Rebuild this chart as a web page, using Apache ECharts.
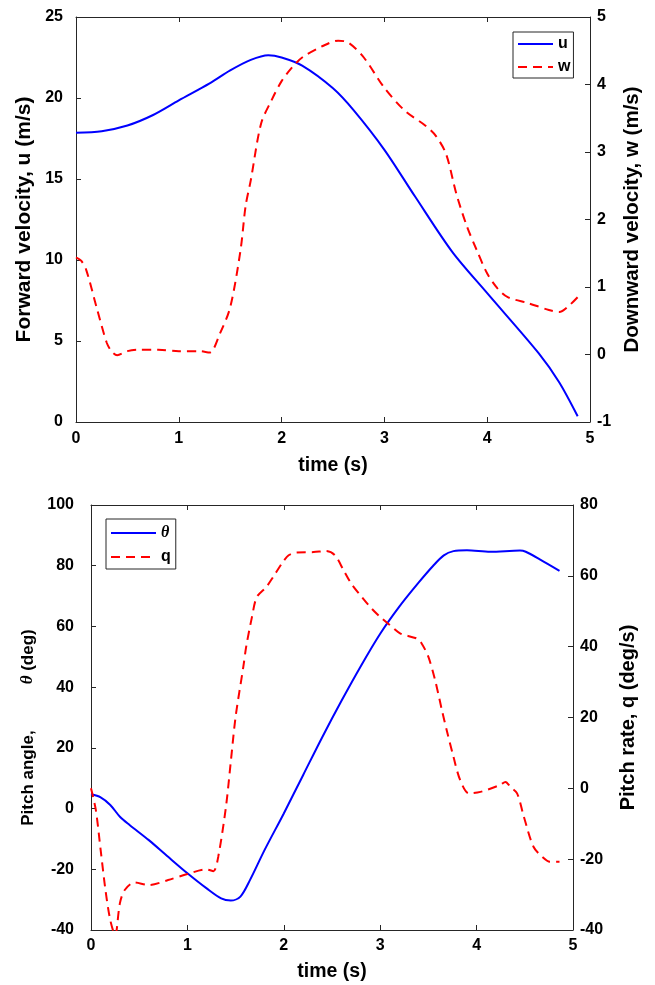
<!DOCTYPE html>
<html>
<head>
<meta charset="utf-8">
<script src="https://cdn.jsdelivr.net/npm/echarts@6/dist/echarts.min.js"></script>
<style>
  html, body { margin: 0; padding: 0; background: #ffffff; }
  #chart { width: 655px; height: 985px; }
</style>
</head>
<body>
<div id="chart"></div>
<script>
// Upper panel: forward velocity u (left axis) and downward velocity w (right axis)
const timeU = [0, 0.25, 0.5, 0.75, 1.0, 1.3, 1.5, 1.7, 1.87, 2.0, 2.2, 2.5, 2.7, 3.0, 3.3, 3.66, 4.0, 4.5, 4.7, 4.88];
const valuesU = [17.85, 17.95, 18.3, 18.95, 19.85, 20.9, 21.7, 22.35, 22.64, 22.5, 22.0, 20.6, 19.25, 16.8, 13.9, 10.5, 7.95, 4.25, 2.45, 0.35];

const timeW = [0, 0.05, 0.1, 0.2, 0.3, 0.35, 0.4, 0.5, 0.6, 0.8, 1.0, 1.2, 1.3, 1.4, 1.5, 1.6, 1.65, 1.7, 1.8, 1.9,
  2.0, 2.1, 2.2, 2.4, 2.55, 2.65, 2.8, 3.0, 3.2, 3.4, 3.5, 3.6, 3.7, 3.8, 3.9, 4.0, 4.1, 4.2, 4.4, 4.6, 4.7, 4.8, 4.88];
const valuesW = [1.44, 1.39, 1.25, 0.70, 0.17, 0.04, -0.01, 0.05, 0.07, 0.07, 0.05, 0.05, 0.03, 0.31, 0.70, 1.54, 2.2, 2.58, 3.42, 3.76,
  4.05, 4.25, 4.40, 4.57, 4.65, 4.62, 4.40, 3.95, 3.61, 3.39, 3.24, 2.97, 2.38, 1.91, 1.54, 1.20, 0.98, 0.85, 0.76, 0.66, 0.63, 0.73, 0.85];

// Lower panel: pitch angle theta (left axis) and pitch rate q (right axis)
const timeTheta = [0, 0.1, 0.2, 0.3, 0.4, 0.6, 0.8, 1.0, 1.2, 1.35, 1.45, 1.55, 1.65, 1.8, 2.0, 2.2, 2.4, 2.6, 2.8, 3.0,
  3.2, 3.4, 3.55, 3.66, 3.76, 3.9, 4.14, 4.45, 4.51, 4.66, 4.86];
const valuesTheta = [4.7, 3.7, 1.2, -2.7, -5.4, -10.4, -15.9, -21.3, -26.3, -29.6, -30.3, -29.0, -23.5, -13.7, -1.6, 11.0, 23.6, 35.6, 47.0, 57.6,
  66.6, 74.5, 80.0, 83.4, 84.8, 85.1, 84.6, 85.0, 84.6, 82.0, 78.3];

const timeQ = [0, 0.05, 0.1, 0.15, 0.2, 0.25, 0.3, 0.35, 0.45, 0.6, 0.8, 1.0, 1.2, 1.27, 1.32, 1.4, 1.45, 1.5, 1.58, 1.61,
  1.67, 1.72, 1.82, 1.89, 1.99, 2.05, 2.13, 2.31, 2.44, 2.53, 2.62, 2.70, 2.81, 2.91, 3.0, 3.10, 3.21, 3.38, 3.43, 3.50,
  3.57, 3.64, 3.69, 3.76, 3.83, 3.92, 4.04, 4.24, 4.30, 4.35, 4.42, 4.49, 4.59, 4.68, 4.76, 4.86];
const valuesQ = [0, -6.1, -17.4, -28.7, -37.2, -41.5, -32.4, -28.7, -26.6, -27.3, -25.9, -24.2, -22.9, -23.4, -19.3, -5.2, 7.5, 20.2, 34.3, 40.0,
  48.4, 54.0, 56.9, 59.7, 63.9, 65.8, 66.6, 66.7, 67.0, 65.8, 61.6, 57.8, 54.0, 50.8, 48.4, 46.1, 43.7, 42.3, 40.9, 37.1,
  30.5, 22.1, 16.4, 8.9, 2.3, -1.4, -1.0, 0.9, 1.8, 0.4, -1.4, -8.0, -16.5, -19.3, -20.7, -20.7];

// Axis ranges and tick steps: [min, max, step]
const timeRange = [0, 5, 1];
const uRange = [0, 25, 5];
const wRange = [-1, 5, 1];
const thetaRange = [-40, 100, 20];
const qRange = [-40, 80, 20];

const pairs = (xs, ys) => xs.map((x, i) => [x, ys[i]]);

const FONT = '"Liberation Sans", Arial, Helvetica, sans-serif';
const SERIF = '"Liberation Serif", "Times New Roman", serif';
const AXIS_COLOR = '#262626';
const BLUE = '#0000ff';
const RED = '#ff0000';

const tickText = { fontFamily: FONT, fontWeight: 'bold', fontSize: 16, color: '#000' };
const nameText = (size) => ({ fontFamily: FONT, fontWeight: 'bold', fontSize: size, color: '#000' });

function xAxisPair(gridIndex, labelMargin, nameGap) {
  const [min, max, step] = timeRange;
  const common = {
    type: 'value', gridIndex, min, max, interval: step,
    axisLine: { show: true, onZero: false, lineStyle: { color: AXIS_COLOR, width: 1 } },
    axisTick: { show: true, inside: true, length: 5, lineStyle: { color: AXIS_COLOR } },
    splitLine: { show: false }
  };
  return [
    Object.assign({}, common, {
      position: 'bottom',
      axisLabel: Object.assign({ margin: labelMargin }, tickText),
      name: 'time (s)', nameLocation: 'middle', nameGap,
      nameTextStyle: nameText(19.5)
    }),
    Object.assign({}, common, {
      position: 'top',
      axisLabel: { show: false }
    })
  ];
}

function yAxis(gridIndex, range, position, labelMargin, name, nameGap, nameStyle) {
  const [min, max, step] = range;
  return {
    type: 'value', gridIndex, position, min, max, interval: step,
    axisLine: { show: true, onZero: false, lineStyle: { color: AXIS_COLOR, width: 1 } },
    axisTick: { show: true, inside: true, length: 5, lineStyle: { color: AXIS_COLOR } },
    splitLine: { show: false },
    axisLabel: Object.assign({ margin: labelMargin }, tickText),
    name, nameLocation: 'middle', nameGap, nameRotate: 90,
    nameTextStyle: nameStyle
  };
}

const lineBase = {
  type: 'line', showSymbol: false, symbol: 'none',
  smooth: 0.3, clip: true, z: 3
};

const legendBase = {
  orient: 'vertical',
  backgroundColor: '#ffffff',
  borderColor: AXIS_COLOR,
  borderWidth: 1,
  borderRadius: 0,
  itemHeight: 14,
  itemGap: 7,
  // legend keys show only the line sample
  itemStyle: { opacity: 0, color: 'transparent', borderWidth: 0 },
  textStyle: {
    fontFamily: FONT, fontWeight: 'bold', fontSize: 16, color: '#000',
    rich: {
      n: { fontFamily: FONT, fontWeight: 'bold', fontSize: 16, color: '#000' },
      t: { fontFamily: SERIF, fontWeight: 'bold', fontStyle: 'italic', fontSize: 16, color: '#000' }
    }
  },
  formatter: (name) => name === 'θ' ? '{t|θ}' : '{n|' + name + '}'
};

const chart = echarts.init(document.getElementById('chart'), null, { renderer: 'canvas' });

chart.setOption({
  animation: false,
  backgroundColor: '#ffffff',
  grid: [
    { left: 76, top: 17, width: 514, height: 405 },
    { left: 91, top: 505, width: 482, height: 425 }
  ],
  legend: [
    Object.assign({}, legendBase, {
      data: ['u', 'w'], left: 513, top: 32, itemWidth: 35, padding: [4, 3, 3, 4]
    }),
    Object.assign({}, legendBase, {
      data: ['θ', 'q'], left: 106, top: 519, itemWidth: 45, itemGap: 8, padding: [6, 5, 4, 4]
    })
  ],
  xAxis: [].concat(xAxisPair(0, 9, 34), xAxisPair(1, 8, 32)),
  yAxis: [
    yAxis(0, uRange, 'left', 13, 'Forward velocity, u (m/s)', 30, nameText(21)),
    yAxis(0, wRange, 'right', 7, 'Downward velocity, w (m/s)', 32, nameText(20.5)),
    yAxis(1, thetaRange, 'left', 17, '{a|Pitch angle,}{s|}{b|θ}{a| (deg)}{e|}', 50, {
      rich: {
        a: { fontFamily: FONT, fontWeight: 'bold', fontSize: 17, color: '#000' },
        b: { fontFamily: SERIF, fontWeight: 'bold', fontStyle: 'italic', fontSize: 17, color: '#000' },
        s: { width: 46 },
        e: { width: 20 }
      }
    }),
    yAxis(1, qRange, 'right', 7, 'Pitch rate, q (deg/s)', 45, nameText(20))
  ],
  series: [
    Object.assign({}, lineBase, {
      name: 'u', xAxisIndex: 0, yAxisIndex: 0,
      data: pairs(timeU, valuesU),
      lineStyle: { color: BLUE, width: 2 }, itemStyle: { color: BLUE }
    }),
    Object.assign({}, lineBase, {
      name: 'w', xAxisIndex: 0, yAxisIndex: 1,
      data: pairs(timeW, valuesW),
      lineStyle: { color: RED, width: 2, type: [9, 6] }, itemStyle: { color: RED }
    }),
    Object.assign({}, lineBase, {
      name: 'θ', xAxisIndex: 2, yAxisIndex: 2,
      data: pairs(timeTheta, valuesTheta),
      lineStyle: { color: BLUE, width: 2 }, itemStyle: { color: BLUE }
    }),
    Object.assign({}, lineBase, {
      name: 'q', xAxisIndex: 2, yAxisIndex: 3,
      data: pairs(timeQ, valuesQ),
      lineStyle: { color: RED, width: 2, type: [9, 6] }, itemStyle: { color: RED }
    })
  ]
});
</script>
</body>
</html>
